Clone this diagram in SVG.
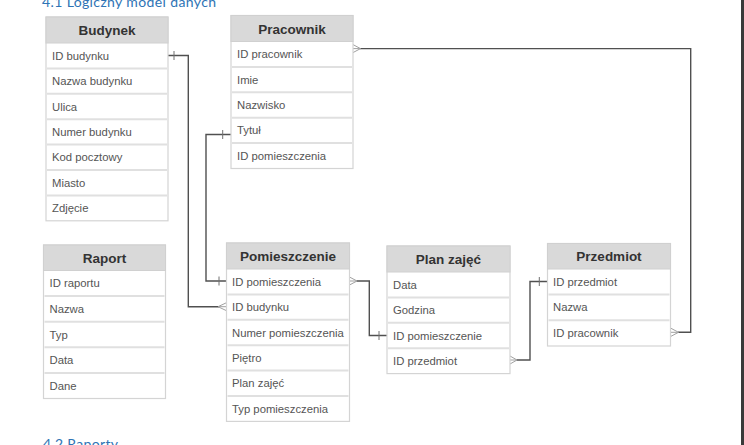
<svg xmlns="http://www.w3.org/2000/svg" width="744" height="445" viewBox="0 0 744 445">
<style>
.hdr{fill:#d9d9d9;stroke:#d0d0d0;stroke-width:1}
.body{fill:#fff;stroke:#d4d4d4;stroke-width:1.2}
.sep{stroke:#e0e0e0;stroke-width:2}
.ht{font-family:"Liberation Sans",Arial,sans-serif;font-weight:bold;font-size:13.5px;fill:#333;text-anchor:middle}
.rt{font-family:"Liberation Sans",Arial,sans-serif;font-size:11.3px;fill:#555}
.ln{fill:none;stroke:#505050;stroke-width:1.4}
.cf{fill:none;stroke:#a0a0a0;stroke-width:1}
.tk{stroke:#707070;stroke-width:1}
.head{font-family:Lato,"Open Sans",sans-serif;font-size:14px;fill:#2E74B5}
</style>
<rect x="0" y="0" width="744" height="445" fill="#fff"/>
<rect x="741" y="0" width="3" height="445" fill="#3a3a3a"/>
<text class="head" x="42" y="6.5" textLength="174">4.1 Logiczny model danych</text>
<text class="head" x="43" y="449" textLength="75">4.2 Raporty</text>

<g id="connectors">
  <!-- Budynek.ID budynku -> Pomieszczenie.ID budynku -->
  <path class="ln" d="M168,55.5 H188.3 V306.7 H219"/>
  <line class="tk" x1="174" y1="51" x2="174" y2="60"/>
  <path class="cf" d="M226.5,302.7 L218,306.7 L226.5,310.7 M218,306.7 H226.5"/>
  <!-- Pracownik.Tytul -> Pomieszczenie.ID pomieszczenia -->
  <path class="ln" d="M231,134.5 H206 V281 H226.5"/>
  <line class="tk" x1="222.7" y1="130" x2="222.7" y2="139"/>
  <line class="tk" x1="219" y1="276.5" x2="219" y2="285.5"/>
  <!-- Pomieszczenie.ID pomieszczenia -> Plan zajec.ID pomieszczenie -->
  <path class="ln" d="M356.5,281 H369.3 V335.5 H387"/>
  <path class="cf" d="M349.5,277 L357,281 L349.5,285 M349.5,281 H357"/>
  <line class="tk" x1="379" y1="331" x2="379" y2="340"/>
  <!-- Plan zajec.ID przedmiot -> Przedmiot.ID przedmiot -->
  <path class="ln" d="M516.5,360 H530 V281.5 H547.5"/>
  <path class="cf" d="M510,356 L517,360 L510,364 M510,360 H517"/>
  <line class="tk" x1="539.3" y1="277" x2="539.3" y2="286"/>
  <!-- Przedmiot.ID pracownik -> Pracownik.ID pracownik -->
  <path class="ln" d="M678,332.3 H690.7 V48.6 H360"/>
  <path class="cf" d="M671,328.3 L678.5,332.3 L671,336.3 M671,332.3 H678.5"/>
  <path class="cf" d="M353,44.6 L360.5,48.6 L353,52.6 M353,48.6 H360.5"/>
</g>

<g id="budynek">
  <rect class="body" x="46" y="17" width="122" height="203.8"/>
  <rect class="hdr" x="46" y="17" width="122" height="26"/>
  <line class="sep" x1="47" y1="68.4" x2="167" y2="68.4"/>
  <line class="sep" x1="47" y1="93.8" x2="167" y2="93.8"/>
  <line class="sep" x1="47" y1="119.2" x2="167" y2="119.2"/>
  <line class="sep" x1="47" y1="144.6" x2="167" y2="144.6"/>
  <line class="sep" x1="47" y1="170" x2="167" y2="170"/>
  <line class="sep" x1="47" y1="195.4" x2="167" y2="195.4"/>
  <text class="ht" x="107" y="35">Budynek</text>
  <text class="rt" x="52" y="59.7">ID budynku</text>
  <text class="rt" x="52" y="85.1">Nazwa budynku</text>
  <text class="rt" x="52" y="110.5">Ulica</text>
  <text class="rt" x="52" y="135.9">Numer budynku</text>
  <text class="rt" x="52" y="161.3">Kod pocztowy</text>
  <text class="rt" x="52" y="186.7">Miasto</text>
  <text class="rt" x="52" y="212.1">Zdjęcie</text>
</g>

<g id="pracownik">
  <rect class="body" x="231" y="15.5" width="122" height="153"/>
  <rect class="hdr" x="231" y="15.5" width="122" height="26"/>
  <line class="sep" x1="232" y1="66.9" x2="352" y2="66.9"/>
  <line class="sep" x1="232" y1="92.3" x2="352" y2="92.3"/>
  <line class="sep" x1="232" y1="117.7" x2="352" y2="117.7"/>
  <line class="sep" x1="232" y1="143.1" x2="352" y2="143.1"/>
  <text class="ht" x="292" y="33.5">Pracownik</text>
  <text class="rt" x="237" y="58.2">ID pracownik</text>
  <text class="rt" x="237" y="83.6">Imie</text>
  <text class="rt" x="237" y="109">Nazwisko</text>
  <text class="rt" x="237" y="134.4">Tytuł</text>
  <text class="rt" x="237" y="159.8">ID pomieszczenia</text>
</g>

<g id="raport">
  <rect class="body" x="43.5" y="245" width="122" height="153.5"/>
  <rect class="hdr" x="43.5" y="245" width="122" height="25.5"/>
  <line class="sep" x1="44.5" y1="296.1" x2="164.5" y2="296.1"/>
  <line class="sep" x1="44.5" y1="321.7" x2="164.5" y2="321.7"/>
  <line class="sep" x1="44.5" y1="347.3" x2="164.5" y2="347.3"/>
  <line class="sep" x1="44.5" y1="372.9" x2="164.5" y2="372.9"/>
  <text class="ht" x="104.5" y="262.7">Raport</text>
  <text class="rt" x="49.5" y="287.3">ID raportu</text>
  <text class="rt" x="49.5" y="312.9">Nazwa</text>
  <text class="rt" x="49.5" y="338.5">Typ</text>
  <text class="rt" x="49.5" y="364.1">Data</text>
  <text class="rt" x="49.5" y="389.7">Dane</text>
</g>

<g id="pomieszczenie">
  <rect class="body" x="226.5" y="243" width="123" height="178.4"/>
  <rect class="hdr" x="226.5" y="243" width="123" height="26"/>
  <line class="sep" x1="227.5" y1="294.4" x2="348.5" y2="294.4"/>
  <line class="sep" x1="227.5" y1="319.8" x2="348.5" y2="319.8"/>
  <line class="sep" x1="227.5" y1="345.2" x2="348.5" y2="345.2"/>
  <line class="sep" x1="227.5" y1="370.6" x2="348.5" y2="370.6"/>
  <line class="sep" x1="227.5" y1="396" x2="348.5" y2="396"/>
  <text class="ht" x="288" y="261">Pomieszczenie</text>
  <text class="rt" x="232" y="285.7">ID pomieszczenia</text>
  <text class="rt" x="232" y="311.1">ID budynku</text>
  <text class="rt" x="232" y="336.5">Numer pomieszczenia</text>
  <text class="rt" x="232" y="361.9">Piętro</text>
  <text class="rt" x="232" y="387.3">Plan zajęć</text>
  <text class="rt" x="232" y="412.7">Typ pomieszczenia</text>
</g>

<g id="plan-zajec">
  <rect class="body" x="387" y="246" width="123" height="127.6"/>
  <rect class="hdr" x="387" y="246" width="123" height="26"/>
  <line class="sep" x1="388" y1="297.4" x2="509" y2="297.4"/>
  <line class="sep" x1="388" y1="322.8" x2="509" y2="322.8"/>
  <line class="sep" x1="388" y1="348.2" x2="509" y2="348.2"/>
  <text class="ht" x="448.5" y="264">Plan zajęć</text>
  <text class="rt" x="393" y="288.7">Data</text>
  <text class="rt" x="393" y="314.1">Godzina</text>
  <text class="rt" x="393" y="339.5">ID pomieszczenie</text>
  <text class="rt" x="393" y="364.9">ID przedmiot</text>
</g>

<g id="przedmiot">
  <rect class="body" x="547.5" y="243.5" width="123" height="102.5"/>
  <rect class="hdr" x="547.5" y="243.5" width="123" height="25.5"/>
  <line class="sep" x1="548.5" y1="294.6" x2="669.5" y2="294.6"/>
  <line class="sep" x1="548.5" y1="320.2" x2="669.5" y2="320.2"/>
  <text class="ht" x="609" y="261.2">Przedmiot</text>
  <text class="rt" x="553" y="285.8">ID przedmiot</text>
  <text class="rt" x="553" y="311.4">Nazwa</text>
  <text class="rt" x="553" y="337">ID pracownik</text>
</g>
</svg>
